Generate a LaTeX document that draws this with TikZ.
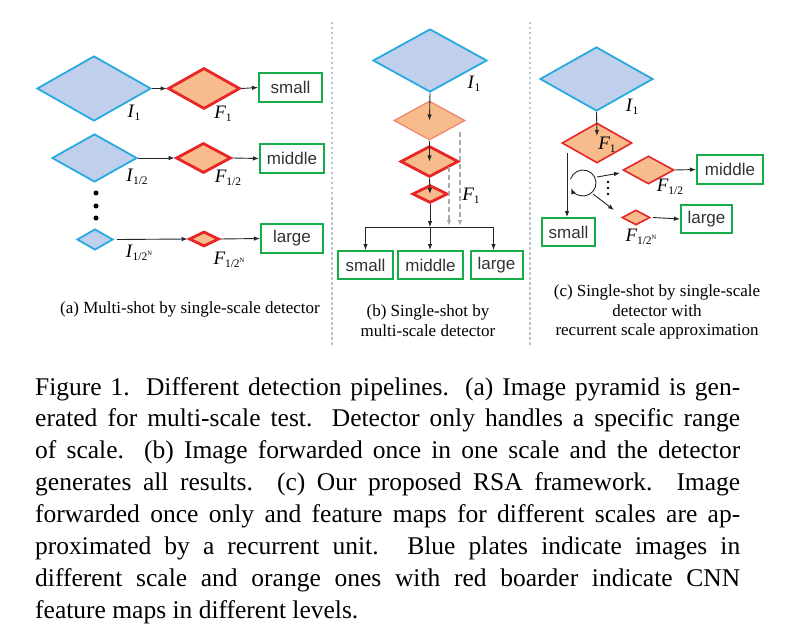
\documentclass[tikz,border=0pt]{standalone}
\usepackage{fontspec}
\setmainfont{Liberation Serif}
\newfontfamily\boxfont{Liberation Sans}
\usetikzlibrary{shapes.geometric,arrows.meta}
\definecolor{bfill}{RGB}{191,207,236}
\definecolor{bline}{RGB}{40,170,225}
\definecolor{ofill}{RGB}{248,188,140}
\definecolor{rline}{RGB}{232,38,40}
\definecolor{lrline}{RGB}{240,135,115}
\definecolor{gline}{RGB}{22,172,72}
\definecolor{dgrey}{RGB}{170,170,170}
\definecolor{divgrey}{RGB}{195,195,195}
\newcommand\lbl[2]{\textit{#1}\kern-0.3pt\raisebox{-0.35ex}{\fontsize{11.5}{11.5}\selectfont #2}}
\newcommand\halfN{1/2\raisebox{1.0ex}{\fontsize{6.5}{6.5}\selectfont N}}
\begin{document}
\begin{tikzpicture}[x=1pt,y=-1pt,
  img/.style 2 args={diamond,draw=bline,fill=bfill,line width=1.8pt,inner sep=0pt,minimum width=#1,minimum height=#2},
  feat/.style 2 args={diamond,draw=rline,fill=ofill,line width=2.8pt,inner sep=0pt,minimum width=#1,minimum height=#2},
  featthin/.style 2 args={diamond,draw=rline,fill=ofill,line width=1.6pt,inner sep=0pt,minimum width=#1,minimum height=#2},
  featlight/.style 2 args={diamond,draw=lrline,fill=ofill,line width=1.3pt,inner sep=0pt,minimum width=#1,minimum height=#2},
  res/.style 2 args={draw=gline,fill=white,line width=2pt,inner sep=0pt,minimum width=#1,minimum height=#2,font=\boxfont\fontsize{17}{17}\selectfont,text=black!80},
  arr/.style={-{Latex[length=6pt,width=4.5pt]},line width=0.9pt,draw=black!85},
  darr/.style={-{Latex[length=6pt,width=4.5pt]},line width=1.2pt,draw=dgrey,dash pattern=on 5pt off 3pt},
  lab/.style={inner sep=0pt,font=\fontsize{19}{19}\selectfont},
  sub/.style={inner sep=0pt,align=center,font=\fontsize{17}{20}\selectfont},
  capline/.style={inner sep=0pt,anchor=base west,font=\fontsize{25.5}{30}\selectfont},
  divider/.style={draw=divgrey,line width=2.5pt,dash pattern=on 2.5pt off 2.5pt},
  dot/.style={fill=black,circle,inner sep=0pt,minimum size=#1}]
\useasboundingbox (0,0) rectangle (805,639);
\fill[white] (0,0) rectangle (805,639);

% dividers
\coordinate (d1t) at (332,22); \coordinate (d1b) at (332,346);
\coordinate (d2t) at (530,22); \coordinate (d2b) at (530,346);
\draw[divider] (d1t) -- (d1b);
\draw[divider] (d2t) -- (d2b);

% ---------------- panel (a)
\node[img={114}{65}] (aI1) at (94,88.5) {};
\node[feat={72}{41}] (aF1) at (204,88.5) {};
\node[res={63}{29}] (aS) at (290.5,87.5) {small};
\node[img={85}{48}] (aI2) at (94.5,158) {};
\node[feat={55}{30}] (aF2) at (203.5,158) {};
\node[res={64}{29}] (aM) at (292,158.5) {middle};
\node[img={36}{21}] (aIN) at (95,239.5) {};
\node[feat={30}{15}] (aFN) at (204,239) {};
\node[res={62}{29}] (aL) at (292,238.5) {large};
\draw[arr] (aI1.east) -- (aF1.west);
\draw[arr] (aF1.east) -- (aS.west);
\draw[arr] (aI2.east) -- (aF2.west);
\draw[arr] (aF2.east) -- (aM.west);
\draw[arr] ([xshift=3pt]aIN.east) -- (aFN.west);
\draw[arr] (aFN.east) -- (aL.west);
\node[dot=5pt] (ad1) at (96,193) {};
\node[dot=5pt] (ad2) at (96,206) {};
\node[dot=5pt] (ad3) at (96,218) {};
\node[lab] (laI1) at (134,113) {\lbl{I}{1}};
\node[lab] (laF1) at (223,114) {\lbl{F}{1}};
\node[lab] (laI2) at (137,177) {\lbl{I}{1/2}};
\node[lab] (laF2) at (228,178) {\lbl{F}{1/2}};
\node[lab] (laIN) at (139,253) {\lbl{I}{\halfN}};
\node[lab] (laFN) at (229,260) {\lbl{F}{\halfN}};
\node[sub] (capa) at (190,309) {(a) Multi-shot by single-scale detector};

% ---------------- panel (b)
\node[img={114}{63}] (bI1) at (430,60.5) {};
\node[featlight={71}{39}] (bF1) at (429.5,120.5) {};
\node[feat={58}{31}] (bF2) at (429.5,161.5) {};
\node[feat={35}{18}] (bF3) at (430,194) {};
\draw[arr] (bI1.south) -- (bF1.center);
\draw[arr] (bF1.south) -- (bF2.center);
\draw[arr] (bF2.south) -- (bF3.center);
\node[res={55}{28}] (bS) at (365.5,265) {small};
\node[res={65}{28}] (bM) at (430.5,265) {middle};
\node[res={52}{28}] (bL) at (496.5,265) {large};
\coordinate (bBl) at (365.5,227);
\coordinate (bBc) at (430,227);
\coordinate (bBr) at (493.5,227);
\draw[line width=0.9pt,black!85] (bBl) -- (bBr);
\draw[arr] (bF3.south) -- (bBc);
\draw[arr] (bBl) -- (bS.north);
\draw[arr] (bBc) -- (bBc |- bM.north);
\draw[arr] (bBr) -- (bBr |- bL.north);
\coordinate (bD1s) at (460,132); \coordinate (bD1e) at (460,226);
\coordinate (bD2s) at (449,167); \coordinate (bD2e) at (449,226);
\draw[darr] (bD1s) -- (bD1e);
\draw[darr] (bD2s) -- (bD2e);
\node[lab] (lbI1) at (474,84) {\lbl{I}{1}};
\node[lab] (lbF1) at (471,196) {\lbl{F}{1}};
\node[sub] (capb) at (428,321) {(b) Single-shot by\\multi-scale detector};

% ---------------- panel (c)
\node[img={113}{64}] (cI1) at (596.5,79) {};
\node[featthin={70}{40}] (cF1) at (597,143) {};
\coordinate (cA) at (597,136);
\draw[arr] (cI1.south) -- (cA);
\node[lab] (lcI1) at (632,107) {\lbl{I}{1}};
\node[lab] (lcF1) at (607,145) {\lbl{F}{1}};
\node[res={53}{28}] (cS) at (568.5,232) {small};
\coordinate (cV) at (567,153);
\draw[arr] (cV) -- (cV |- cS.north);
\coordinate (cO) at (583,183);
\draw[arr] (cO) ++(197:13) arc[start angle=197,end angle=517,radius=13];
\node[featthin={51}{28}] (cF2) at (648.5,170) {};
\node[res={66}{29}] (cM) at (730,169.5) {middle};
\node[featthin={28}{15}] (cFN) at (636,217.5) {};
\node[res={51}{28}] (cL) at (706.5,219) {large};
\coordinate (cR1s) at (597,177); \coordinate (cR1e) at (620,173);
\coordinate (cR2s) at (593,194); \coordinate (cR2e) at (614,210);
\draw[arr] (cR1s) -- (cR1e);
\draw[arr] (cR2s) -- (cR2e);
\draw[arr] (cF2.east) -- (cM.west);
\draw[arr] ([xshift=2pt]cFN.east) -- (cL.west);
\node[dot=2.8pt] (cd1) at (608,182) {};
\node[dot=2.8pt] (cd2) at (608,188) {};
\node[dot=2.8pt] (cd3) at (608,194) {};
\node[lab] (lcF2) at (670,187) {\lbl{F}{1/2}};
\node[lab] (lcFN) at (641,237) {\lbl{F}{\halfN}};
\node[sub,font=\fontsize{17}{19.5}\selectfont] (capc) at (657,312) {(c) Single-shot by single-scale\\detector with\\recurrent scale approximation};

% ---------------- main caption
\node[capline] (m1) at (35,395) {\makebox[705pt][s]{Figure 1. Different detection pipelines. (a) Image pyramid is gen-}};
\node[capline] (m2) at (35,426.9) {\makebox[705pt][s]{erated for multi-scale test. Detector only handles a specific range}};
\node[capline] (m3) at (35,458.8) {\makebox[705pt][s]{of scale. (b) Image forwarded once in one scale and the detector}};
\node[capline] (m4) at (35,490.7) {\makebox[705pt][s]{generates all results. (c) Our proposed RSA framework. Image}};
\node[capline] (m5) at (35,522.6) {\makebox[705pt][s]{forwarded once only and feature maps for different scales are ap-}};
\node[capline] (m6) at (35,554.5) {\makebox[705pt][s]{proximated by a recurrent unit. Blue plates indicate images in}};
\node[capline] (m7) at (35,586.4) {\makebox[705pt][s]{different scale and orange ones with red boarder indicate CNN}};
\node[capline] (m8) at (35,618.3) {feature maps in different levels.};
\end{tikzpicture}
\end{document}
